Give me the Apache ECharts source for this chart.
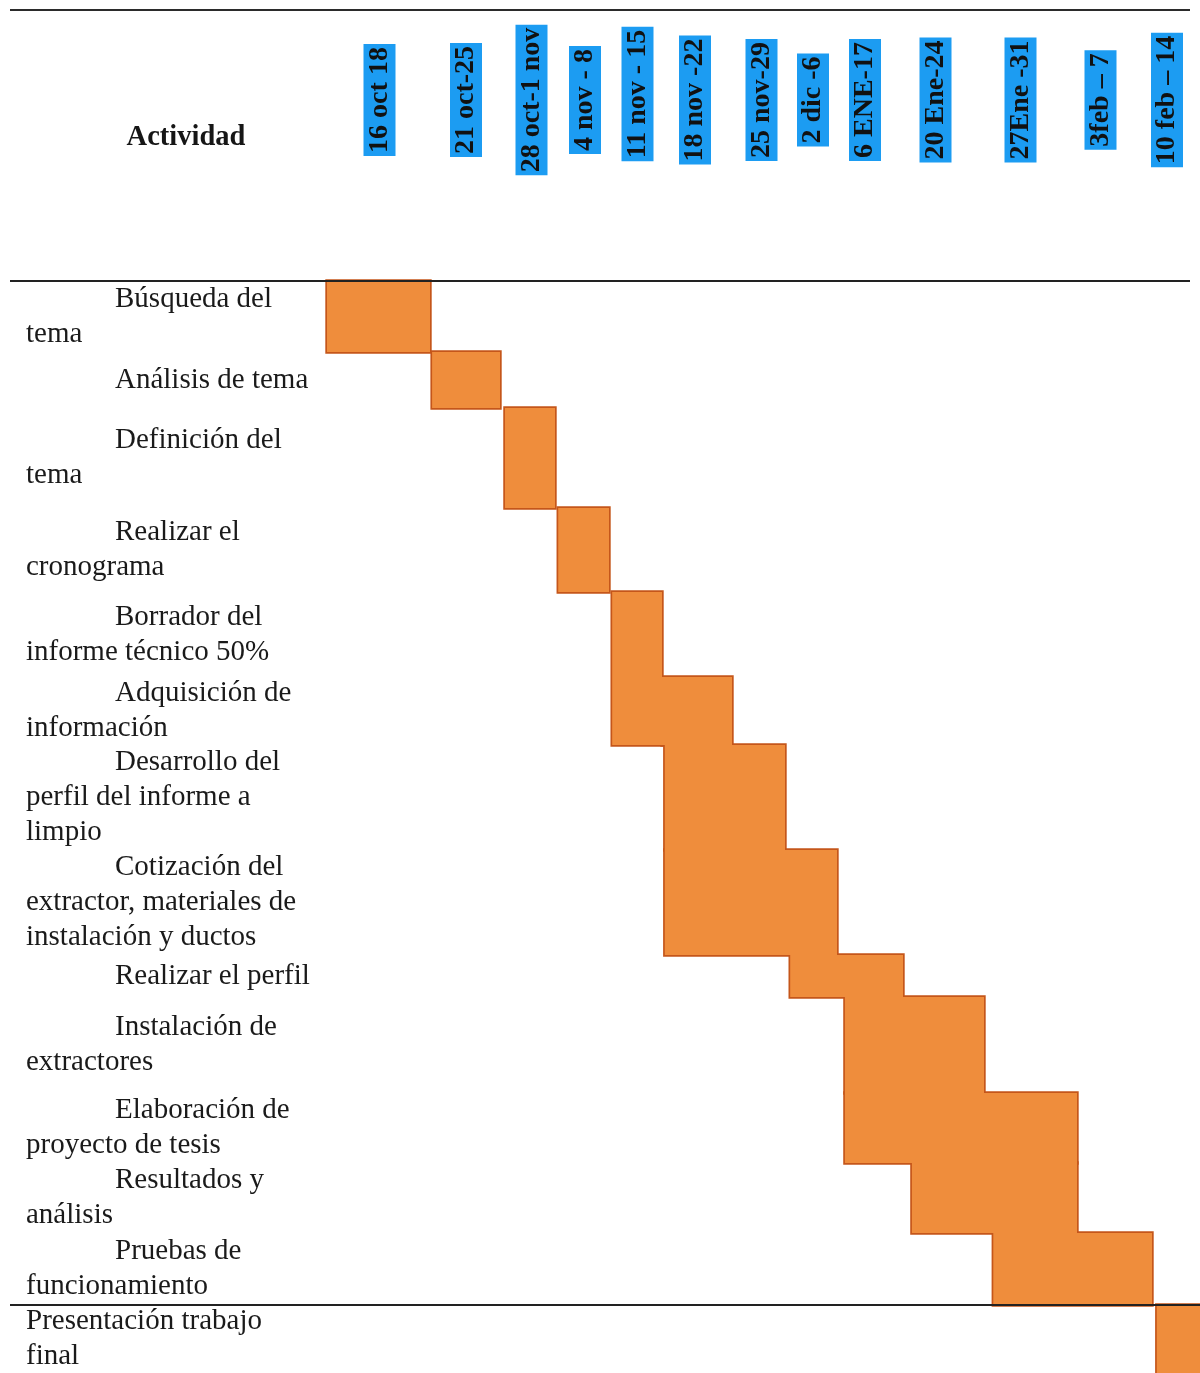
<!DOCTYPE html>
<html>
<head>
<meta charset="utf-8">
<script src="https://cdn.jsdelivr.net/npm/echarts@6/dist/echarts.min.js"></script>
<style>
  html, body { margin: 0; padding: 0; background: #ffffff; }
  #chart { width: 1200px; height: 1373px; }
</style>
</head>
<body>
<div id="chart"></div>
<script>
// Semanas del cronograma (encabezado de columnas)
const semanas = ['16 oct 18', '21 oct-25', '28 oct-1 nov', '4 nov - 8', '11 nov - 15', '18 nov -22',
  '25 nov-29', '2 dic -6', '6 ENE-17', '20 Ene-24', '27Ene -31', '3feb \u2013 7', '10 feb \u2013 14'];

// Actividades, una línea de texto por elemento
const actividades = [
  ['Búsqueda del', 'tema'],
  ['Análisis de tema'],
  ['Definición del', 'tema'],
  ['Realizar el', 'cronograma'],
  ['Borrador del', 'informe técnico 50%'],
  ['Adquisición de', 'información'],
  ['Desarrollo del', 'perfil del informe a', 'limpio'],
  ['Cotización del', 'extractor, materiales de', 'instalación y ductos'],
  ['Realizar el perfil'],
  ['Instalación de', 'extractores'],
  ['Elaboración de', 'proyecto de tesis'],
  ['Resultados y', 'análisis'],
  ['Pruebas de', 'funcionamiento'],
  ['Presentación trabajo', 'final']
];

// Inicio y fin de cada actividad, en semanas del cronograma
const inicio = [0, 1.03, 2.09, 3.06, 4.06, 5, 5.04, 5.04, 7.1, 8.12, 8.12, 9.11, 10.1, 12.1];
const fin    = [1, 2, 3, 4, 5, 6, 7, 8, 9, 10, 11, 11, 12, 13];
// Filas de la tabla que cubre cada barra
const filas  = [1, 1, 1, 1, 2, 1, 1, 1, 1, 1, 1, 1, 1, 1];

// Table layout: width of each week column and height of each activity row (px)
const anchoColumnas = [103, 70, 55, 54, 53, 70, 53, 52, 66, 81, 93, 75, 48];
const altoFilas = [71, 56, 100, 84, 85, 68, 105, 105, 42, 96, 70, 70, 72, 68];
// Header cells sit slightly off the body columns (px shift per header)
const ajusteEncabezado = [1, 1, 4, 3, 2, -2, 3, 2, -5, -8, -10, -14, -9];
const ajusteVertical = [0, 0, 0, 0, -6, 0, 0, 0, 0, 0, 0, 0, 0];

const bordesX = [0];
anchoColumnas.forEach(w => bordesX.push(bordesX[bordesX.length - 1] + w));
const bordesY = [0];
altoFilas.forEach(h => bordesY.push(bordesY[bordesY.length - 1] + h));

// week index (may be fractional) -> x-axis units
function semanaAEje(s) {
  const i = Math.min(Math.floor(s), anchoColumnas.length - 1);
  return bordesX[i] + (s - i) * anchoColumnas[i];
}

const FUENTE = '"Liberation Serif", "Times New Roman", serif';
const NARANJA = '#EF8D3C';
const BORDE = '#C5561A';
const AZUL = '#1C9CF2';

const datosBarras = inicio.map((s, i) => [s, fin[i], i, i + filas[i]]);
const datosFilas = actividades.map((_, i) => [i]);
const datosSemanas = semanas.map((_, i) => [i]);

function rectBarra(api) {
  const p0 = api.coord([semanaAEje(api.value(0)), bordesY[api.value(2)]]);
  const p1 = api.coord([semanaAEje(api.value(1)), bordesY[api.value(3)]]);
  return { x: p0[0], y: p0[1], w: p1[0] - p0[0], h: p1[1] - p0[1] };
}

const chart = echarts.init(document.getElementById('chart'), null, { renderer: 'canvas' });

chart.setOption({
  backgroundColor: '#ffffff',
  animation: false,
  grid: { left: 327, right: 0, top: 281, bottom: 0 },
  xAxis: { type: 'value', min: 0, max: bordesX[bordesX.length - 1], show: false },
  yAxis: { type: 'value', min: 0, max: bordesY[bordesY.length - 1], inverse: true, show: false },
  graphic: [
    { type: 'line', shape: { x1: 10, y1: 10, x2: 1190, y2: 10 },
      style: { stroke: '#2b2b2b', lineWidth: 2 } },
    { type: 'text', x: 186, y: 138,
      style: { text: 'Actividad', font: 'bold 28.5px ' + FUENTE, fill: '#161616',
               align: 'center', verticalAlign: 'middle' } }
  ],
  series: [
    // outline layer: bars expanded slightly, drawn in the border colour
    {
      type: 'custom', clip: false, z: 2,
      data: datosBarras,
      renderItem: (params, api) => {
        const r = rectBarra(api);
        const m = 1.7;
        return { type: 'rect', shape: { x: r.x - m, y: r.y - m, width: r.w + 2 * m, height: r.h + 2 * m },
                 style: { fill: BORDE } };
      }
    },
    // fill layer: covers inner borders so overlapping bars read as one block
    {
      type: 'custom', clip: false, z: 3,
      data: datosBarras,
      renderItem: (params, api) => {
        const r = rectBarra(api);
        return { type: 'rect', shape: { x: r.x, y: r.y, width: r.w, height: r.h },
                 style: { fill: NARANJA } };
      }
    },
    // activity names (first line indented) and table rules
    {
      type: 'custom', clip: false, z: 4,
      data: datosFilas,
      renderItem: (params, api) => {
        const i = api.value(0);
        const top = api.coord([0, bordesY[i]])[1];
        const bot = api.coord([0, bordesY[i + 1]])[1];
        const centro = (top + bot) / 2;
        const lineas = actividades[i];
        const paso = 35;
        const children = lineas.map((t, k) => ({
          type: 'text',
          x: (k === 0 && i !== 13) ? 115 : 26,
          y: centro + (k - (lineas.length - 1) / 2) * paso,
          style: { text: t, font: '29px ' + FUENTE, fill: '#1a1a1a', align: 'left', verticalAlign: 'middle' }
        }));
        if (i === 0 || i === 13) {
          children.push({ type: 'line', shape: { x1: 10, y1: top, x2: i === 0 ? 1190 : 1200, y2: top },
                          style: { stroke: '#222222', lineWidth: 2 } });
        }
        return { type: 'group', children };
      }
    },
    // rotated week headers with highlighted background
    {
      type: 'custom', clip: false, z: 5,
      data: datosSemanas,
      renderItem: (params, api) => {
        const i = api.value(0);
        const cx = api.coord([semanaAEje(i + 0.5), 0])[0] + ajusteEncabezado[i];
        return {
          type: 'text', x: cx, y: 100 + ajusteVertical[i], rotation: Math.PI / 2,
          style: { text: semanas[i], font: 'bold 28px ' + FUENTE, fill: '#111111',
                   align: 'center', verticalAlign: 'middle',
                   backgroundColor: AZUL, padding: [3, 3, 1, 3] }
        };
      }
    }
  ]
});
</script>
</body>
</html>
